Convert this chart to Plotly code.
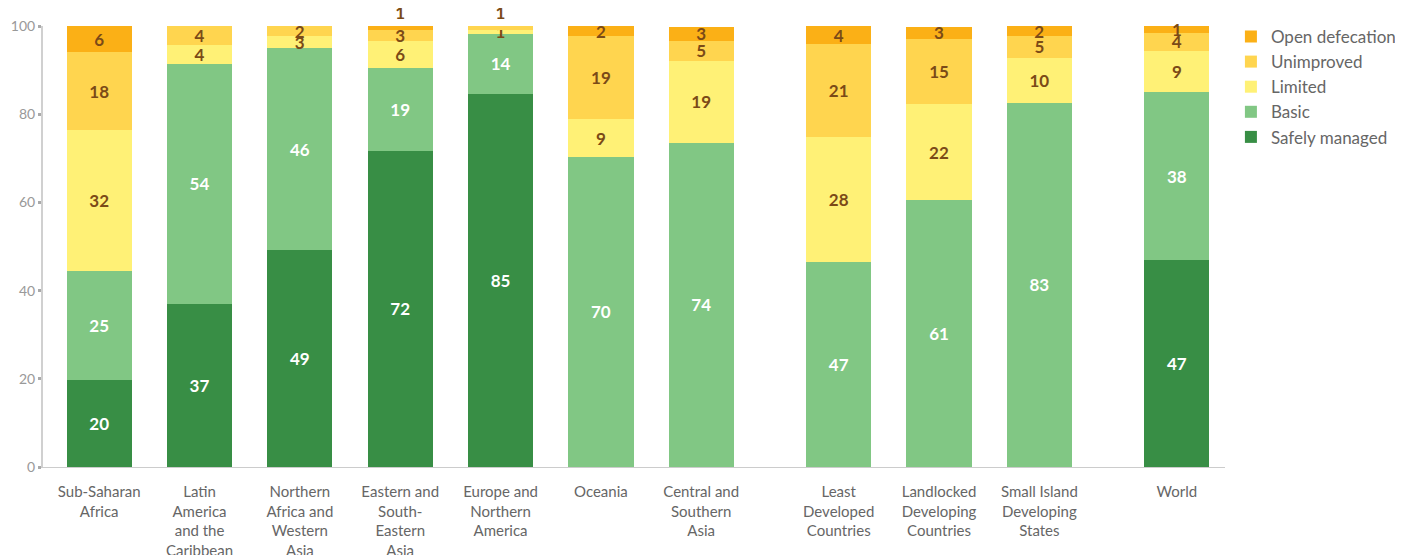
import plotly.graph_objects as go

# categories, split into visual groups (a small gap is left between groups)
regions = ["Sub-Saharan<br>Africa", "Latin<br>America<br>and the<br>Caribbean",
           "Northern<br>Africa and<br>Western<br>Asia", "Eastern and<br>South-<br>Eastern<br>Asia",
           "Europe and<br>Northern<br>America", "Oceania", "Central and<br>Southern<br>Asia"]
country_groups = ["Least<br>Developed<br>Countries", "Landlocked<br>Developing<br>Countries",
                  "Small Island<br>Developing<br>States"]
world = ["World"]
groups = [regions, country_groups, world]

# % of population (order follows the categories above)
safely_managed = [19.7, 37.0, 49.2, 71.7, 84.6, None, None, None, None, None, 46.9]
basic = [24.7, 54.4, 45.8, 18.8, 13.6, 70.3, 73.5, 46.5, 60.5, 82.6, 38.1]
limited = [32.0, 4.4, 2.7, 6.1, 0.9, 8.6, 18.6, 28.3, 21.8, 10.2, 9.3]
unimproved = [17.7, 4.1, 2.3, 2.6, 0.8, 18.8, 4.5, 21.1, 14.8, 4.9, 4.2]
open_defecation = [5.8, None, None, 0.7, None, 2.2, 3.2, 4.0, 2.7, 2.2, 1.4]

GROUP_GAP = 0.37
labels, xpos = [], []
for gi, grp in enumerate(groups):
    for name in grp:
        xpos.append(len(labels) + gi * GROUP_GAP)
        labels.append(name)

FONT = "Lato"
BROWN = "#7b4a17"
series = [
    ("Safely managed", safely_managed, "#388e45", "white"),
    ("Basic", basic, "#81c784", "white"),
    ("Limited", limited, "#fff176", BROWN),
    ("Unimproved", unimproved, "#ffd54f", BROWN),
    ("Open defecation", open_defecation, "#fbb016", BROWN),
]

fig = go.Figure()
for name, vals, color, tcolor in series:
    # tiny top segments get their label above the bar
    pos = ["inside"] * len(vals)
    if name == "Open defecation":
        pos[3] = "outside"
    if name == "Unimproved":
        pos[4] = "outside"
    fig.add_trace(go.Bar(
        x=xpos, y=vals, name=name, marker=dict(color=color, line=dict(width=0)),
        width=0.65, texttemplate="%{y:.0f}", textposition=pos, textangle=0,
        insidetextanchor="middle", constraintext="none", cliponaxis=False,
        insidetextfont=dict(family=FONT, size=17, color=tcolor, weight="bold"),
        outsidetextfont=dict(family=FONT, size=17, color=tcolor, weight="bold"),
        hovertemplate=name + ": %{y:.0f}%<extra></extra>",
    ))

# page body adds an 8px offset, margins are reduced to compensate
fig.update_layout(
    barmode="stack",
    width=1403, height=555,
    margin=dict(l=35, r=186, t=18, b=96, autoexpand=False),
    plot_bgcolor="white", paper_bgcolor="white",
    font=dict(family=FONT, color="#666"),
    legend=dict(x=1.005, xanchor="left", y=1.016, yanchor="top",
                font=dict(size=17, color="#666"), tracegroupgap=0),
)
fig.update_xaxes(
    tickvals=xpos, ticktext=labels, range=[-0.56, xpos[-1] + 0.48],
    showgrid=False, zeroline=False, showline=True, linecolor="#ccc", linewidth=1,
    ticks="", tickfont=dict(size=15, color="#666"), ticklabelstandoff=11,
    automargin=False,
)
fig.update_yaxes(
    range=[0, 100.001], dtick=20, showgrid=False, zeroline=False,
    showline=True, linecolor="#d0d0d0", linewidth=2,
    ticks="outside", ticklen=3, tickwidth=3, tickcolor="#aaa",
    tickfont=dict(size=14, color="#999"), automargin=False,
)

fig.write_html("out.html")
